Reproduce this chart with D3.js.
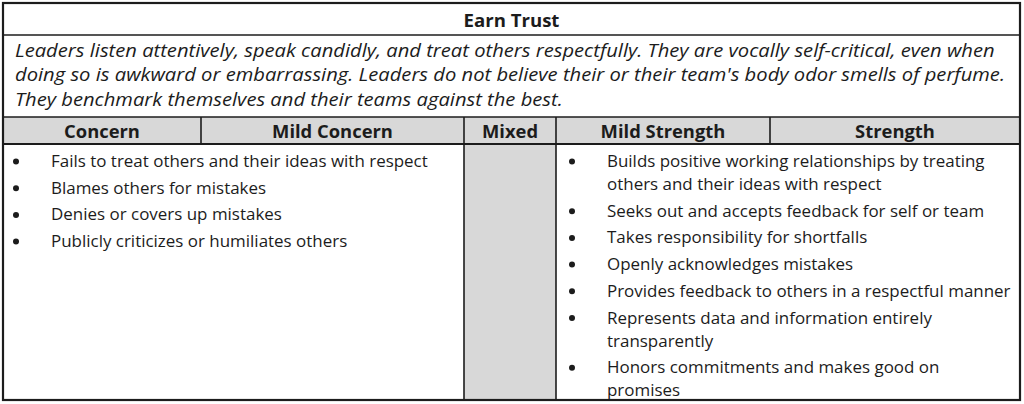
<!DOCTYPE html>
<html>
<head>
<meta charset="utf-8">
<script src="https://cdn.jsdelivr.net/npm/d3@7"></script>
<style>
  body { margin: 0; background: #fff; }
  text { fill: #1c1c1c; }
</style>
</head>
<body>
<svg id="chart" width="1024" height="404"></svg>
<script>
// ---- data ----
const title = "Earn Trust";
const descriptionLines = [
  "Leaders listen attentively, speak candidly, and treat others respectfully. They are vocally self-critical, even when",
  "doing so is awkward or embarrassing. Leaders do not believe their or their team's body odor smells of perfume.",
  "They benchmark themselves and their teams against the best."
];
const ratingLabels = ["Concern", "Mild Concern", "Mixed", "Mild Strength", "Strength"];
const concernItems = [
  "Fails to treat others and their ideas with respect",
  "Blames others for mistakes",
  "Denies or covers up mistakes",
  "Publicly criticizes or humiliates others"
];
const strengthItems = [
  "Builds positive working relationships by treating\nothers and their ideas with respect",
  "Seeks out and accepts feedback for self or team",
  "Takes responsibility for shortfalls",
  "Openly acknowledges mistakes",
  "Provides feedback to others in a respectful manner",
  "Represents data and information entirely\ntransparently",
  "Honors commitments and makes good on\npromises"
];

// ---- layout ----
const frame = { left: 3, right: 1020, top: 3, bottom: 400 };
const rowY = { desc: 35, head: 117, body: 144 };
const colEdges = [frame.left, 201, 464, 556, 770, frame.right];
const font = "'Open Sans', 'Noto Sans', sans-serif";
const grey = "#d8d8d8", ink = "#1c1c1c";

const svg = d3.select("#chart");

// width of a string at a given size
function measure(sample, size, weight, style) {
  const t = svg.append("text")
    .attr("font-family", font).attr("font-size", size)
    .attr("font-weight", weight).attr("font-style", style)
    .text(sample);
  const w = t.node().getComputedTextLength();
  t.remove();
  return w;
}
// the source face is narrower than Open Sans, so squeeze horizontally
const bodySize = 15.6;
const bodyK = 377 / measure(concernItems[0], bodySize, 400, "normal");
const descSize = 18.4;
const descK = 980 / measure(descriptionLines[0], descSize, 400, "italic");
const titleSize = 17.5;
const titleK = 96 / measure(title, titleSize, 700, "normal");
const headSize = 17.5;
const headK = 121 / measure(ratingLabels[1], headSize, 700, "normal");

const colX = d3.scaleOrdinal(ratingLabels, colEdges.slice(0, -1));
const colW = d3.scaleOrdinal(ratingLabels, d3.pairs(colEdges).map(([a, b]) => b - a));

// fills
svg.append("rect")
  .attr("x", frame.left).attr("y", rowY.head)
  .attr("width", frame.right - frame.left).attr("height", rowY.body - rowY.head)
  .attr("fill", grey);
svg.append("rect")
  .attr("x", colX("Mixed")).attr("y", rowY.body)
  .attr("width", colW("Mixed")).attr("height", frame.bottom - rowY.body)
  .attr("fill", grey);

// title
svg.append("text")
  .attr("transform", `translate(${(frame.left + frame.right) / 2},27) scale(${titleK},1)`)
  .attr("text-anchor", "middle")
  .attr("font-family", font).attr("font-weight", 700)
  .attr("font-size", titleSize)
  .text(title);

// description
svg.append("g")
  .selectAll("text")
  .data(descriptionLines)
  .join("text")
  .attr("transform", (d, i) => `translate(15,${56.5 + i * 24.7}) scale(${descK},1)`)
  .attr("font-family", font).attr("font-style", "italic")
  .attr("font-size", descSize)
  .text(d => d);

// header labels
svg.append("g")
  .selectAll("text")
  .data(ratingLabels)
  .join("text")
  .attr("transform", d => `translate(${colX(d) + colW(d) / 2},137.5) scale(${headK},1)`)
  .attr("text-anchor", "middle")
  .attr("font-family", font).attr("font-weight", 700)
  .attr("font-size", headSize)
  .text(d => d);

// bullet lists
function drawList(items, bulletX, textX) {
  const lineH = 23, step = 26.7;
  let y = 167;
  const rows = items.map(d => {
    const lines = d.split("\n");
    const r = { lines, y };
    y += (lines.length - 1) * lineH + step;
    return r;
  });
  const g = svg.append("g");
  const item = g.selectAll("g").data(rows).join("g");
  item.append("circle")
    .attr("cx", bulletX).attr("cy", d => d.y - 5.5)
    .attr("r", 3).attr("fill", ink);
  item.selectAll("text")
    .data(d => d.lines.map((l, i) => ({ l, y: d.y + i * lineH })))
    .join("text")
    .attr("transform", d => `translate(${textX},${d.y}) scale(${bodyK},1)`)
    .attr("font-family", font).attr("font-size", bodySize)
    .text(d => d.l);
}
drawList(concernItems, 16, 51);
drawList(strengthItems, 572, 607);

// grid lines
const hLines = [rowY.desc, rowY.head, rowY.body];
svg.append("g")
  .selectAll("line")
  .data(hLines)
  .join("line")
  .attr("x1", frame.left).attr("x2", frame.right)
  .attr("y1", d => d).attr("y2", d => d)
  .attr("stroke", ink).attr("stroke-width", (d, i) => i === 2 ? 2 : 1.6);

// column separators in header row
svg.append("g")
  .selectAll("line")
  .data(colEdges.slice(1, -1))
  .join("line")
  .attr("x1", d => d).attr("x2", d => d)
  .attr("y1", rowY.head).attr("y2", rowY.body)
  .attr("stroke", ink).attr("stroke-width", 1.6);

// separators around the Mixed column in the body
svg.append("g")
  .selectAll("line")
  .data([colX("Mixed"), colX("Mild Strength")])
  .join("line")
  .attr("x1", d => d).attr("x2", d => d)
  .attr("y1", rowY.body).attr("y2", frame.bottom)
  .attr("stroke", ink).attr("stroke-width", 1.6);

// outer frame
svg.append("rect")
  .attr("x", frame.left).attr("y", frame.top)
  .attr("width", frame.right - frame.left).attr("height", frame.bottom - frame.top)
  .attr("fill", "none").attr("stroke", ink).attr("stroke-width", 2.2);
</script>
</body>
</html>
